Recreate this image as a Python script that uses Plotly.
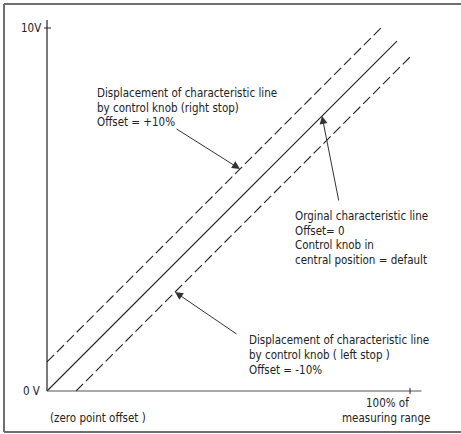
import plotly.graph_objects as go

# ---- data (x in % of measuring range, y in volts) ----
orig_x = [0, 96.4]
orig_y = [0, 9.64]
plus_x = [0, 92.3]
plus_y = [0.8, 10.03]
minus_x = [8.0, 100.5]
minus_y = [0, 9.25]

y_tick_labels = ["0 V", "10V"]
y_tick_vals = [0, 10]
x_tick_val = 100

W, H = 461, 434
X0PX, Y0PX = 47, 391
SX, SY = 3.63, 36.3  # px per % and per V


def px2x(px):
    return (px - X0PX) / SX


def px2y(py):
    return (Y0PX - py) / SY


FONT = "DejaVu Sans Condensed, Liberation Sans Narrow, DejaVu Sans, sans-serif"
INK = "#222222"

fig = go.Figure()
fig.add_trace(go.Scatter(x=orig_x, y=orig_y, mode="lines",
                         line=dict(color=INK, width=1.1), hoverinfo="skip"))
fig.add_trace(go.Scatter(x=plus_x, y=plus_y, mode="lines",
                         line=dict(color=INK, width=1.1, dash="10px,4px"), hoverinfo="skip"))
fig.add_trace(go.Scatter(x=minus_x, y=minus_y, mode="lines",
                         line=dict(color=INK, width=1.1, dash="10px,4px"), hoverinfo="skip"))

shapes = []
# axes
shapes.append(dict(type="line", xref="x", yref="y", x0=0, x1=0, y0=0, y1=px2y(20),
                   line=dict(color=INK, width=1.2)))
shapes.append(dict(type="line", xref="x", yref="y", x0=0, x1=px2x(421.5), y0=0, y1=0,
                   line=dict(color="#555555", width=1.2)))
# ticks
shapes.append(dict(type="line", xref="x", yref="y", x0=px2x(44), x1=px2x(51),
                   y0=y_tick_vals[1], y1=y_tick_vals[1], line=dict(color=INK, width=1)))
shapes.append(dict(type="line", xref="x", yref="y", x0=x_tick_val, x1=x_tick_val,
                   y0=px2y(394), y1=px2y(388), line=dict(color=INK, width=1)))
# frame (left, top, bottom)
frame = dict(color="#6e6e6e", width=2)
shapes.append(dict(type="line", xref="paper", yref="paper", x0=4 / W, x1=4 / W,
                   y0=1 - 4 / H, y1=1 - 432 / H, line=frame))
shapes.append(dict(type="line", xref="paper", yref="paper", x0=4 / W, x1=1,
                   y0=1 - 4 / H, y1=1 - 4 / H, line=frame))
shapes.append(dict(type="line", xref="paper", yref="paper", x0=4 / W, x1=1,
                   y0=1 - 432 / H, y1=1 - 432 / H, line=frame))

ann = []


def text(s, px, py, anchor="left"):
    ann.append(dict(text=s, xref="x", yref="y", x=px2x(px), y=px2y(py),
                    xanchor=anchor, yanchor="middle", showarrow=False,
                    font=dict(family=FONT, size=11.5, color=INK)))


text(y_tick_labels[1], 43, 28, "right")
text(y_tick_labels[0], 42, 391, "right")
text("(zero point offset )", 48, 418)
text("100% of", 387, 403, "center")
text("measuring range", 386, 418, "center")

text("Displacement of characteristic line", 95, 93)
text("by control knob (right stop)", 95, 107.5)
text("Offset = +10%", 95, 122)

text("Orginal characteristic line", 293, 216)
text("Offset= 0", 293, 230.5)
text("Control knob in", 293, 245)
text("central position = default", 293, 259.5)

text("Displacement of characteristic line", 247, 340)
text("by control knob ( left stop )", 247, 355)
text("Offset = -10%", 247, 370)


def arrow(tail_px, head_px):
    ann.append(dict(text="", xref="x", yref="y", axref="x", ayref="y",
                    x=px2x(head_px[0]), y=px2y(head_px[1]),
                    ax=px2x(tail_px[0]), ay=px2y(tail_px[1]),
                    showarrow=True, arrowhead=2, arrowsize=1.6, arrowwidth=1,
                    arrowcolor="#333333", standoff=0))


arrow((175, 128), (240, 169))
arrow((339, 202), (322, 116))
arrow((238, 335), (175, 292))

fig.update_layout(
    width=W, height=H, margin=dict(l=0, r=0, t=0, b=0),
    paper_bgcolor="white", plot_bgcolor="white", showlegend=False,
    xaxis=dict(range=[px2x(0), px2x(W)], visible=False, fixedrange=True),
    yaxis=dict(range=[px2y(H), px2y(0)], visible=False, fixedrange=True),
    shapes=shapes, annotations=ann,
)
fig.write_html("out.html", config={"displayModeBar": False},
               post_script="document.body.style.margin='0px';")
